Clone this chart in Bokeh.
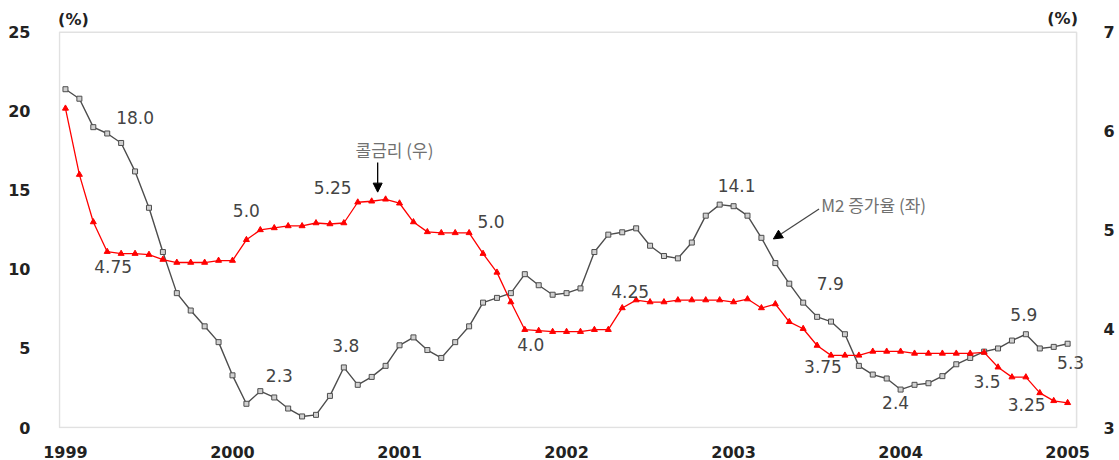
from bokeh.plotting import figure
from bokeh.models import (LinearAxis, Range1d, FixedTicker, ColumnDataSource,
                          Label, Arrow, NormalHead, BoxAnnotation)
from bokeh.embed import file_html
from bokeh.resources import INLINE

# ---- data (monthly, Jan 1999 .. Jan 2005) ----
years = ["1999", "2000", "2001", "2002", "2003", "2004", "2005"]
m2_growth = [21.4, 20.8, 19.0, 18.6, 18.0, 16.2, 13.9, 11.1, 8.5, 7.4, 6.4, 5.4,
             3.3, 1.5, 2.3, 1.9, 1.2, 0.7, 0.8, 2.0, 3.8, 2.7, 3.2, 3.9,
             5.2, 5.7, 4.9, 4.4, 5.4, 6.4, 7.9, 8.2, 8.5, 9.7, 9.0, 8.4,
             8.5, 8.8, 11.1, 12.2, 12.35, 12.6, 11.5, 10.85, 10.7, 11.7, 13.4, 14.1,
             14.0, 13.4, 12.0, 10.4, 9.1, 7.9, 7.0, 6.7, 5.9, 3.9, 3.35, 3.1,
             2.4, 2.7, 2.8, 3.25, 4.0, 4.4, 4.8, 5.0, 5.5, 5.9, 5.0, 5.1,
             5.3]
call_rate = [6.23, 5.56, 5.08, 4.78, 4.76, 4.76, 4.75, 4.70, 4.67, 4.67, 4.67, 4.69,
             4.69, 4.90, 5.00, 5.02, 5.04, 5.04, 5.07, 5.06, 5.07, 5.28, 5.29, 5.31,
             5.27, 5.08, 4.98, 4.97, 4.97, 4.97, 4.76, 4.57, 4.27, 3.99, 3.98, 3.97,
             3.97, 3.97, 3.99, 3.99, 4.21, 4.29, 4.27, 4.27, 4.29, 4.29, 4.29, 4.29,
             4.27, 4.30, 4.21, 4.25, 4.07, 4.00, 3.83, 3.73, 3.73, 3.73, 3.77, 3.77,
             3.77, 3.75, 3.75, 3.75, 3.75, 3.75, 3.76, 3.61, 3.51, 3.51, 3.35, 3.27,
             3.25]
months = list(range(len(m2_growth)))
left_ticks = [0, 5, 10, 15, 20, 25]
right_ticks = [3, 4, 5, 6, 7]

# annotation labels: (text, month index)
m2_labels = [("18.0", 4), ("2.3", 14), ("3.8", 20), ("14.1", 47), ("7.9", 53),
             ("2.4", 60), ("5.9", 69), ("5.3", 72)]
rate_labels = [("4.75", 3), ("5.0", 14), ("5.25", 21), ("5.0", 29), ("4.0", 33),
               ("4.25", 41), ("3.75", 55), ("3.5", 68), ("3.25", 71)]

# ---- layout / style (pixel offsets of labels from their points) ----
m2_off = {4: (14, -25), 14: (19, -16), 20: (2, -22), 47: (17, -19), 53: (27, -19),
          60: (-5, 13), 69: (-2, -20), 72: (3, 19)}
rate_off = {3: (6, 15), 14: (-14, -19), 21: (-25, -15), 29: (22, -11), 33: (6, 15),
            41: (-6, -9), 55: (-8, 11), 68: (-25, 4), 71: (-27, 4)}

FONT = "DejaVu Sans"
KFONT = "Noto Sans CJK KR"
TICK = "#222222"
TXT = "#444444"

# plot area is a little larger than the drawn box so outside texts are not clipped
p = figure(width=1117, height=460, output_backend="svg", toolbar_location=None,
           x_range=Range1d(-0.5, 73.786), y_range=Range1d(-0.063, 26.507),
           min_border_left=58, min_border_right=19, min_border_top=8,
           min_border_bottom=29, x_axis_location=None, y_axis_location=None)
p.extra_y_ranges = {"rate": Range1d(2.98995, 7.2412)}
p.background_fill_color = "white"
p.border_fill_color = "white"
p.outline_line_color = None
p.xgrid.visible = False
p.ygrid.visible = False

def style_axis(ax, standoff, size="16px"):
    ax.axis_line_color = None
    ax.major_tick_line_color = None
    ax.minor_tick_line_color = None
    ax.major_label_text_font = FONT
    ax.major_label_text_font_size = size
    ax.major_label_text_font_style = "bold"
    ax.major_label_text_color = TICK
    ax.major_label_standoff = standoff

ax_left = LinearAxis(ticker=FixedTicker(ticks=left_ticks))
style_axis(ax_left, 22)
p.add_layout(ax_left, "left")

ax_right = LinearAxis(y_range_name="rate", ticker=FixedTicker(ticks=right_ticks))
style_axis(ax_right, 5)
p.add_layout(ax_right, "right")

ax_bottom = LinearAxis(ticker=FixedTicker(ticks=[12 * i for i in range(len(years))]))
ax_bottom.major_label_overrides = {12 * i: y for i, y in enumerate(years)}
style_axis(ax_bottom, 11)
p.add_layout(ax_bottom, "below")

# drawn box (0..25 on the left scale, first to last month with margins)
p.add_layout(BoxAnnotation(left=-0.4286, right=72.643, bottom=left_ticks[0],
                           top=left_ticks[-1], fill_alpha=0, line_color="#9a9a9a",
                           line_width=1.5, level="underlay"))

# ---- series ----
src = ColumnDataSource(dict(m=months, m2=m2_growth, rate=call_rate))
p.line("m", "m2", source=src, line_color="#4d4d4d", line_width=1.4)
p.scatter("m", "m2", source=src, marker="square", size=5, line_color="#4d4d4d",
          fill_color="#d0d0d0", line_width=1)
p.line("m", "rate", source=src, y_range_name="rate", line_color="#ff0000", line_width=1.3)
p.scatter("m", "rate", source=src, y_range_name="rate", marker="triangle", size=6,
          line_color="#ff0000", fill_color="#ff0000")

# ---- value labels ----
for txt, i in m2_labels:
    dx, dy = m2_off[i]
    p.add_layout(Label(x=i, y=m2_growth[i], text=txt, x_offset=dx, y_offset=-dy,
                       text_align="center", text_baseline="middle",
                       text_font=FONT, text_font_size="17px", text_color=TXT))
for txt, i in rate_labels:
    dx, dy = rate_off[i]
    p.add_layout(Label(x=i, y=call_rate[i], y_range_name="rate", text=txt,
                       x_offset=dx, y_offset=-dy,
                       text_align="center", text_baseline="middle",
                       text_font=FONT, text_font_size="17px", text_color=TXT))

# ---- series name labels and arrows ----
p.add_layout(Label(x=23.64, y=17.59, text="콜금리 (우)", text_align="center",
                   text_baseline="middle", text_font=KFONT, text_font_size="17px",
                   text_color="#707070"))
p.add_layout(Arrow(x_start=22.43, y_start=16.77, x_end=22.43, y_end=14.89,
                   line_color="black", line_width=1.3,
                   end=NormalHead(size=9, fill_color="black", line_color="black")))
p.add_layout(Label(x=54.29, y=14.13, text="M2 증가율 (좌)", text_align="left",
                   text_baseline="middle", text_font=KFONT, text_font_size="17px",
                   text_color="#707070"))
p.add_layout(Arrow(x_start=54.14, y_start=13.82, x_end=50.86, y_end=11.93,
                   line_color="#444444", line_width=1.2,
                   end=NormalHead(size=9, fill_color="black", line_color="black")))

# ---- unit labels ----
p.add_layout(Label(x=0.57, y=25.78, text="(%)", text_align="center",
                   text_baseline="middle", text_font=FONT, text_font_size="16px",
                   text_font_style="bold", text_color=TICK))
p.add_layout(Label(x=71.64, y=25.9, text="(%)", text_align="center",
                   text_baseline="middle", text_font=FONT, text_font_size="16px",
                   text_font_style="bold", text_color=TICK))

open("out.html", "w").write(file_html(p, INLINE))
